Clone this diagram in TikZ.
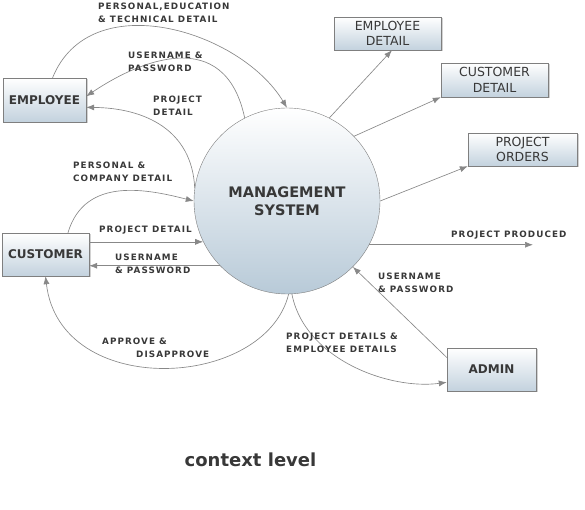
\documentclass[tikz,border=0pt]{standalone}
\usepackage{fontspec}
\setmainfont{DejaVu Sans}
\newfontfamily\lblfont[LetterSpace=12]{DejaVu Sans}
\usepackage{tikz}
\usetikzlibrary{arrows.meta,shadows}
\definecolor{ink}{HTML}{383838}
\definecolor{wire}{HTML}{888888}
\definecolor{boxline}{HTML}{7F7F7F}
\definecolor{boxblue}{HTML}{C3D2DE}
\definecolor{ballblue}{HTML}{B8CAD8}

\begin{document}
\begin{tikzpicture}[x=1pt,y=1pt,
  box/.style={draw=boxline,top color=white,bottom color=boxblue,inner sep=0pt,text=ink,
    drop shadow={shadow xshift=1.5pt,shadow yshift=-1.5pt,fill=black!35},
    font=\fontsize{12}{14}\selectfont\bfseries},
  store/.style={box,align=center,font=\fontsize{12.5}{15.5}\selectfont},
  flow/.style={draw=wire,line width=0.65pt,-{Latex[length=8pt,width=6pt]}},
  lbl/.style={anchor=north west,inner sep=0pt,align=left,text=ink,
    font=\lblfont\fontsize{8.8}{12.3}\selectfont\bfseries}]
\useasboundingbox (0,0) rectangle (585,510);
% process and entities
\node[circle,draw=boxline,minimum size=186pt,inner sep=0pt,top color=white,bottom color=ballblue,
  align=center,text=ink,font=\fontsize{14.5}{18}\selectfont\bfseries] (ms) at (287,309) {MANAGEMENT\\SYSTEM};
\node[box,minimum width=83pt,minimum height=44pt] (emp) at (44.5,410) {EMPLOYEE};
\node[box,minimum width=87pt,minimum height=43pt] (cust) at (45.5,255.5) {CUSTOMER};
\node[box,minimum width=89pt,minimum height=43pt] (admin) at (491.5,140.5) {ADMIN};
\node[store,minimum width=107pt,minimum height=33pt] (edet) at (387.5,476.5) {EMPLOYEE\\DETAIL};
\node[store,minimum width=107pt,minimum height=34pt] (cdet) at (494.5,430) {CUSTOMER\\DETAIL};
\node[store,minimum width=109pt,minimum height=33pt] (pord) at (522.5,360.5) {PROJECT\\ORDERS};
\coordinate (prod) at (533,265);
% data flows
\draw[flow] (emp.70) .. controls (90,525) and (240,480) .. (ms.north);
\draw[flow] (ms.117) .. controls (225,485) and (140,450) .. (emp.5);
\draw[flow] (ms.172) .. controls (192,380) and (145,402) .. (emp.-10);
\draw[flow] (cust.44) .. controls (85,335) and (150,320) .. (ms.west);
\draw[flow] (cust.east |- ms.206) -- (ms.206);
\draw[flow] (ms.224) -- (cust.east |- ms.224);
\draw[flow] (ms.-89) .. controls (265,120) and (60,110) .. (cust.south);
\draw[flow] (ms.-87) .. controls (305,150) and (390,120) .. (admin.196);
\draw[flow] (admin.165) -- (ms.-45);
\draw[flow] (ms.63) -- (edet.-75);
\draw[flow] (ms.44) -- (cdet.south west);
\draw[flow] (ms.east) -- (pord.south west);
\draw[flow] (ms.-28) -- (ms.-28 -| prod);
% flow labels
\node[lbl] (l1) at (98,507) {PERSONAL,EDUCATION\\\& TECHNICAL DETAIL};
\node[lbl] (l2) at (128,458) {USERNAME \&\\PASSWORD};
\node[lbl] (l3) at (153,414) {PROJECT\\DETAIL};
\node[lbl] (l4) at (73,348) {PERSONAL \&\\COMPANY DETAIL};
\node[lbl] (l5) at (99,284) {PROJECT DETAIL};
\node[lbl] (l6) at (115,256) {USERNAME\\\& PASSWORD};
\node[lbl] (l7) at (102,172) {APPROVE \&\\\hspace*{34pt}DISAPPROVE};
\node[lbl] (l8) at (286,177) {PROJECT DETAILS \&\\EMPLOYEE DETAILS};
\node[lbl] (l9) at (378,237) {USERNAME\\\& PASSWORD};
\node[lbl] (l10) at (451,279) {PROJECT PRODUCED};
\node[text=ink,font=\fontsize{18}{20}\selectfont\bfseries] (title) at (250.5,50) {context level};
\end{tikzpicture}
\end{document}
